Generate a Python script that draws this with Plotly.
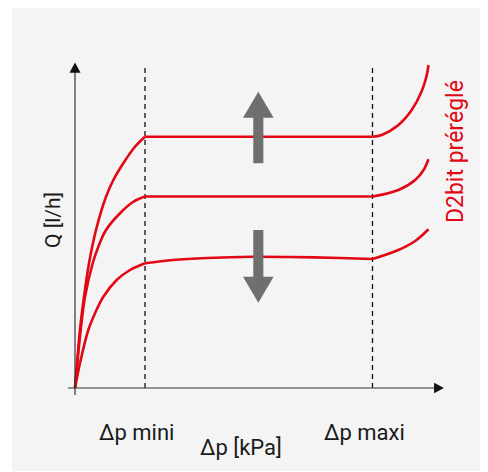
import plotly.graph_objects as go

# ---- data (Δp in arbitrary kPa units, Q in arbitrary l/h units) ----
dp_mini = 10.0
dp_maxi = 42.5

# high preset curve
high_rise_x = [0, 0.3, 0.71, 1.29, 2.0, 3.0, 4.43, 5.48, 6.9, 8.57, 10.0]
high_rise_y = [0, 10, 23.2, 36.5, 49.9, 63.2, 76.5, 83.2, 89.9, 96.5, 100.5]
high_flat_x = [10.0, 42.5]
high_flat_y = [100.5, 100.5]
high_tail_x = [42.5, 43.8, 46.2, 48.1, 49.5, 50.2, 50.5]
high_tail_y = [100.5, 101.2, 105.2, 111.2, 118.5, 124.5, 129.2]

# medium preset curve
mid_rise_x = [0, 0.33, 0.81, 1.43, 2.53, 3.33, 4.43, 6.43, 8.33, 10.0]
mid_rise_y = [0, 9.9, 23.2, 36.5, 49.9, 56.5, 63.2, 69.9, 74.5, 76.6]
mid_flat_x = [10.0, 42.5]
mid_flat_y = [76.6, 76.6]
mid_tail_x = [42.5, 46.2, 48.6, 49.8, 50.5]
mid_tail_y = [76.6, 79.2, 83.2, 87.2, 91.5]

# low preset curve
low_rise_x = [0, 0.71, 1.9, 2.86, 4.05, 5.95, 7.86, 10.0]
low_rise_y = [0, 9.9, 23.2, 29.9, 36.5, 43.2, 47.2, 49.9]
low_flat_x = [10.0, 14.0, 18.9, 25.4, 30.7, 37.9, 42.5]
low_flat_y = [49.9, 51.2, 52, 52.5, 52.4, 52, 51.6]
low_tail_x = [42.5, 46.2, 48.6, 50.5]
low_tail_y = [51.6, 55.2, 58.8, 63.5]

x_labels = ["Δp mini", "Δp maxi"]
x_title = "Δp [kPa]"
y_title = "Q [l/h]"
series_label = "D2bit préréglé"

RED = "#e30613"
GRAY = "#6f6f6f"
AX = "#333333"
FONT = "Roboto, Noto Sans, sans-serif"

fig = go.Figure()

segments = [
    (high_rise_x, high_rise_y), (high_flat_x, high_flat_y), (high_tail_x, high_tail_y),
    (mid_rise_x, mid_rise_y), (mid_flat_x, mid_flat_y), (mid_tail_x, mid_tail_y),
    (low_rise_x, low_rise_y), (low_flat_x, low_flat_y), (low_tail_x, low_tail_y),
]
for sx, sy in segments:
    fig.add_trace(go.Scatter(
        x=sx, y=sy, mode="lines",
        line=dict(color=RED, width=2.6, shape="spline", smoothing=1.0),
        hoverinfo="skip", showlegend=False, cliponaxis=False))

shapes = []
# background panel
shapes.append(dict(type="rect", xref="paper", yref="paper",
                   x0=-0.0651, x1=1.0302, y0=-0.1342, y1=1.1,
                   fillcolor="#f4f4f4", line=dict(width=0), layer="below"))
# dashed verticals
for xv in (dp_mini, dp_maxi):
    shapes.append(dict(type="line", xref="x", yref="y", x0=xv, x1=xv, y0=0, y1=129.2,
                       line=dict(color="#111111", width=1.3, dash="5px,4px"), layer="below"))
# axes
shapes.append(dict(type="line", xref="x", yref="y", x0=0, x1=0, y0=-2.8, y1=126.5,
                   line=dict(color=AX, width=1.2)))
shapes.append(dict(type="line", xref="x", yref="y", x0=-1.0, x1=51.6, y0=0, y1=0,
                   line=dict(color=AX, width=1.2)))
# axis arrowheads
shapes.append(dict(type="path", xref="x", yref="y",
                   path="M -0.79,126.1 L 0.79,126.1 L 0,130.2 Z",
                   fillcolor="#111111", line=dict(width=0)))
shapes.append(dict(type="path", xref="x", yref="y",
                   path="M 51.3,-2.1 L 51.3,2.1 L 52.7,0 Z",
                   fillcolor="#111111", line=dict(width=0)))
# gray arrows
cx, hs, hh = 26.19, 0.72, 2.19
shapes.append(dict(type="path", xref="x", yref="y", layer="above",
                   path=f"M {cx-hs},89.9 L {cx+hs},89.9 L {cx+hs},108.1 L {cx+hh},108.1 "
                        f"L {cx},118.5 L {cx-hh},108.1 L {cx-hs},108.1 Z",
                   fillcolor=GRAY, line=dict(width=0)))
shapes.append(dict(type="path", xref="x", yref="y", layer="above",
                   path=f"M {cx-hs},63.2 L {cx+hs},63.2 L {cx+hs},44.5 L {cx+hh},44.5 "
                        f"L {cx},34.1 L {cx-hh},44.5 L {cx-hs},44.5 Z",
                   fillcolor=GRAY, line=dict(width=0)))

TXT = dict(family=FONT, size=22, color="#1a1a1a")
annotations = [
    dict(x=0.2233, y=-0.0316, xref="paper", yref="paper", text=x_labels[0], showarrow=False,
         font=TXT, xanchor="center", yanchor="middle"),
    dict(x=0.7558, y=-0.0316, xref="paper", yref="paper", text=x_labels[1], showarrow=False,
         font=TXT, xanchor="center", yanchor="middle"),
    dict(x=0.4663, y=-0.0711, xref="paper", yref="paper", text=x_title, showarrow=False,
         font=TXT, xanchor="center", yanchor="middle"),
    dict(x=-3.14, y=67.2, xref="x", yref="y", text=y_title, showarrow=False, textangle=-90,
         font=dict(family=FONT, size=21, color="#1a1a1a"),
         xanchor="center", yanchor="middle"),
    dict(x=54.3, y=94.4, xref="x", yref="y", text=series_label, showarrow=False, textangle=-90,
         font=dict(family=FONT, size=23, color=RED),
         xanchor="center", yanchor="middle"),
]

fig.update_layout(
    width=480, height=464,
    margin=dict(l=32, r=18, t=32, b=52),
    paper_bgcolor="white", plot_bgcolor="rgba(0,0,0,0)",
    xaxis=dict(range=[-5, 56.43], visible=False, fixedrange=True),
    yaxis=dict(range=[-12.8, 139.2], visible=False, fixedrange=True),
    shapes=shapes, annotations=annotations, showlegend=False,
)

fig.write_html("out.html")
